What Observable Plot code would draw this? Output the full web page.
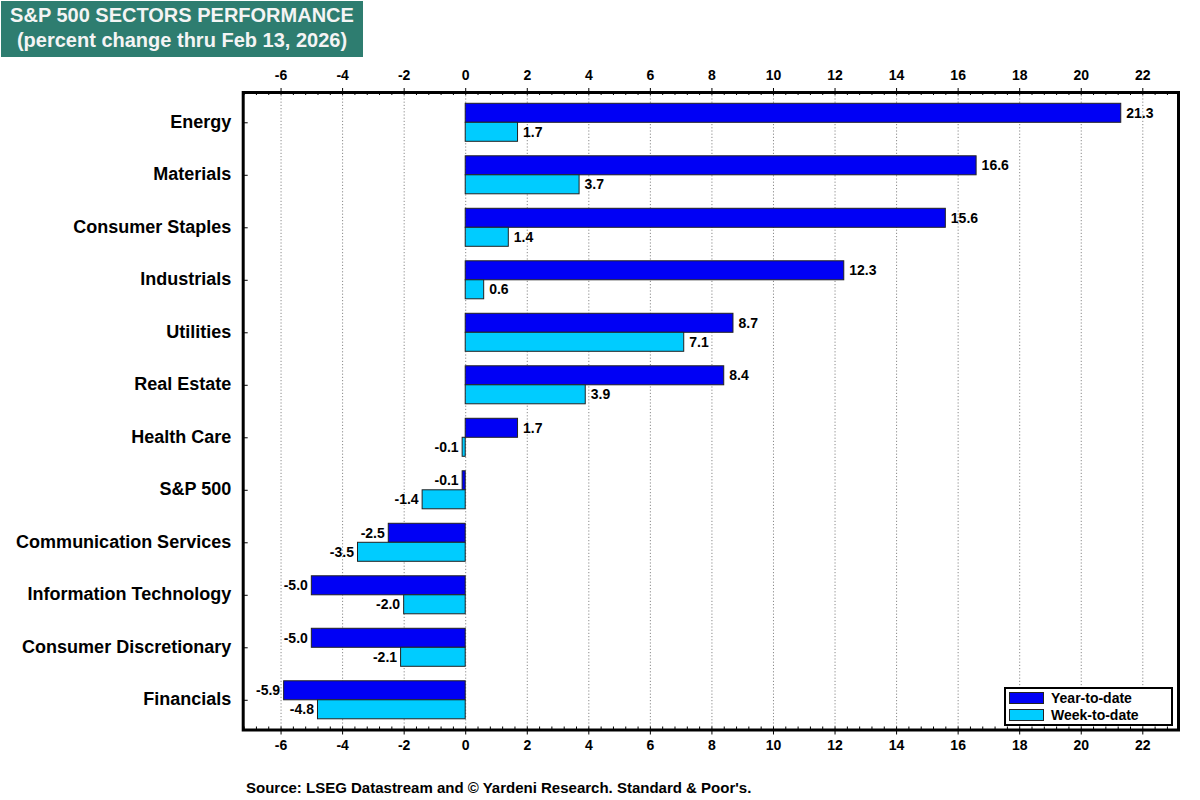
<!DOCTYPE html>
<html>
<head>
<meta charset="utf-8">
<script src="https://cdn.jsdelivr.net/npm/d3@7"></script>
<script src="https://cdn.jsdelivr.net/npm/@observablehq/plot@0.6"></script>
<style>
  html, body { margin: 0; padding: 0; background: #fff; }
  body { width: 1200px; height: 800px; position: relative; font-family: "Liberation Sans", Arial, sans-serif; overflow: hidden; }
  #chart { position: absolute; left: 0; top: 0; }
  #chart svg text { font-weight: bold; }
  #title { position: absolute; left: 1px; top: 1px; width: 362px; height: 56px; background: #2e7d70; color: #f4f4f4;
           font: bold 20px "Liberation Sans", Arial, sans-serif; text-align: center; line-height: 25px; box-sizing: border-box; padding-top: 2px; white-space: nowrap; }
  #source { position: absolute; left: 246px; top: 779px; font: bold 15px "Liberation Sans", Arial, sans-serif; color: #000; white-space: nowrap; }
  #legend { position: absolute; left: 1004px; top: 687px; width: 169px; height: 39px; box-sizing: border-box; border: 2px solid #000; background: #fff;
            font: bold 14px "Liberation Sans", Arial, sans-serif; }
  #legend .row { position: absolute; left: 3px; height: 12px; display: flex; align-items: center; }
  #legend .sw { width: 33px; height: 10px; border: 1px solid #222; margin-right: 7px; }
</style>
</head>
<body>
<div id="chart"></div>
<div id="title">S&amp;P 500 SECTORS PERFORMANCE<br>(percent change thru Feb 13, 2026)</div>
<div id="legend">
  <div class="row" style="top:3px"><div class="sw" style="background:#0000f5"></div>Year-to-date</div>
  <div class="row" style="top:20px"><div class="sw" style="background:#00ccff"></div>Week-to-date</div>
</div>
<div id="source">Source: LSEG Datastream and © Yardeni Research. Standard &amp; Poor's.</div>
<script>
const sectors = ["Energy", "Materials", "Consumer Staples", "Industrials", "Utilities", "Real Estate",
  "Health Care", "S&P 500", "Communication Services", "Information Technology", "Consumer Discretionary", "Financials"];
const yearToDate = [21.3, 16.6, 15.6, 12.3, 8.7, 8.4, 1.7, -0.1, -2.5, -5.0, -5.0, -5.9];
const weekToDate = [1.7, 3.7, 1.4, 0.6, 7.1, 3.9, -0.1, -1.4, -3.5, -2.0, -2.1, -4.8];
const xTickValues = [-6, -4, -2, 0, 2, 4, 6, 8, 10, 12, 14, 16, 18, 20, 22];
const seriesNames = ["Year-to-date", "Week-to-date"];
const seriesColors = ["#0000f5", "#00ccff"];

// layout constants
const xDomain = [-7.23, 23.16];
const yDomain = [-0.577, 11.566];
const half = 0.362; // bar thickness in band units

const rows = [];
sectors.forEach((s, i) => {
  rows.push({sector: s, i, series: seriesNames[0], value: yearToDate[i], y1: i - half, y2: i, ym: i - half / 2});
  rows.push({sector: s, i, series: seriesNames[1], value: weekToDate[i], y1: i, y2: i + half, ym: i + half / 2});
});

const minorTicks = d3.range(-18, 58).map(k => +(k * 0.4).toFixed(1));
const yTickLen = 5 / 30.78;
const xTickLen = 3 / 52.5;

const chart = Plot.plot({
  width: 1200,
  height: 800,
  marginLeft: 242.7,
  marginRight: 22,
  marginTop: 92,
  marginBottom: 70.5,
  style: {fontFamily: "'Liberation Sans', Arial, sans-serif", color: "#000", background: "#fff"},
  x: {domain: xDomain, label: null},
  y: {domain: yDomain, reverse: true, label: null},
  color: {domain: seriesNames, range: seriesColors},
  marks: [
    Plot.ruleX(xTickValues, {stroke: "#8a8a8a", strokeWidth: 1, strokeDasharray: "1.2,2"}),
    Plot.rectX(rows, {x1: 0, x2: "value", y1: "y1", y2: "y2", fill: "series", stroke: "#222", strokeWidth: 1}),
    Plot.text(rows.filter(d => d.value > 0), {x: "value", y: "ym", text: d => d.value.toFixed(1), textAnchor: "start", dx: 5, fontSize: 14, fill: "#000"}),
    Plot.text(rows.filter(d => d.value <= 0), {x: "value", y: "ym", text: d => d.value.toFixed(1), textAnchor: "end", dx: -4, fontSize: 14, fill: "#000"}),
    // inward minor ticks top & bottom
    Plot.ruleX(minorTicks, {y1: yDomain[0], y2: yDomain[0] + xTickLen, stroke: "#000", strokeWidth: 1}),
    Plot.ruleX(minorTicks, {y1: yDomain[1], y2: yDomain[1] - xTickLen, stroke: "#000", strokeWidth: 1}),
    // inward y ticks
    Plot.ruleY(d3.range(sectors.length), {x1: xDomain[0], x2: xDomain[0] + yTickLen, stroke: "#000", strokeWidth: 1}),
    Plot.axisX({anchor: "top", ticks: xTickValues, tickSize: 5, tickPadding: 8, fontSize: 14, tickFormat: d => d, label: null}),
    Plot.axisX({anchor: "bottom", ticks: xTickValues, tickSize: 5, tickPadding: 5, fontSize: 14, tickFormat: d => d, label: null}),
    Plot.axisY({ticks: d3.range(sectors.length), tickFormat: i => sectors[i], tickSize: 0, tickPadding: 12, fontSize: 18, dy: -1, label: null}),
    Plot.frame({stroke: "#000", strokeWidth: 3})
  ]
});
document.getElementById("chart").append(chart);
</script>
</body>
</html>
